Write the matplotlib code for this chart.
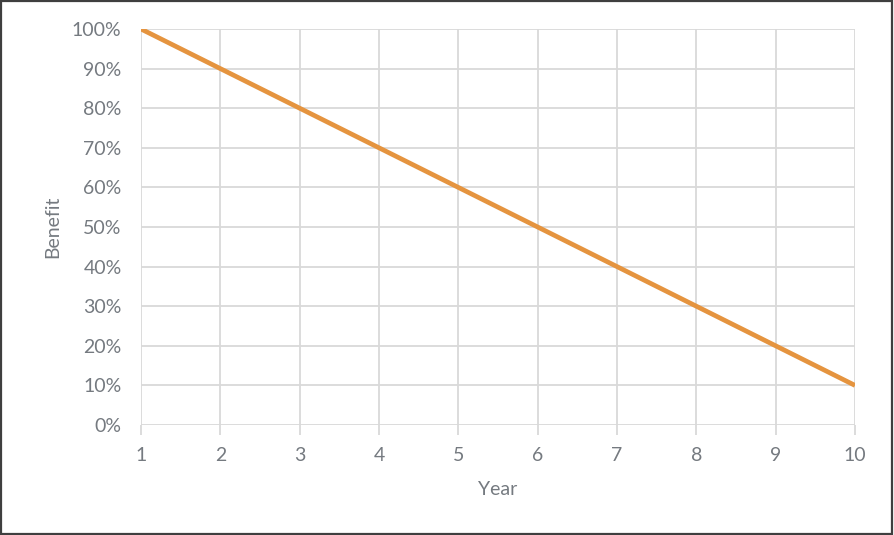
import matplotlib
matplotlib.use("Agg")
import matplotlib.pyplot as plt
from matplotlib.patches import Rectangle
from matplotlib.ticker import PercentFormatter

# Straight-line decline of benefit over ten years
years = [1, 2, 3, 4, 5, 6, 7, 8, 9, 10]
benefit = [100, 90, 80, 70, 60, 50, 40, 30, 20, 10]

plt.rcParams["font.family"] = ["Lato", "DejaVu Sans"]
text_color = "#757a80"
grid_color = "#d9d9d9"

fig = plt.figure(figsize=(8.94, 5.35), dpi=100)
ax = fig.add_axes([141 / 894, 110 / 535, 714 / 894, 396 / 535])

ax.plot(years, benefit, color="#e5943f", lw=3.4, solid_capstyle="butt", zorder=3)

ax.set_xlim(1, 10)
ax.set_ylim(0, 100)
ax.set_xticks(years)
ax.set_yticks(range(0, 101, 10))
ax.yaxis.set_major_formatter(PercentFormatter(decimals=0))

ax.grid(True, color=grid_color, lw=1.3)
for s in ax.spines.values():
    s.set_visible(False)
ax.tick_params(axis="x", length=7, width=1.3, color=grid_color, labelcolor=text_color,
               labelsize=14, pad=9)
ax.tick_params(axis="y", length=0, labelcolor=text_color, labelsize=14, pad=14)

ax.set_xlabel("Year", color=text_color, fontsize=14, labelpad=12)
ax.set_ylabel("Benefit", color=text_color, fontsize=14, labelpad=8)

# Outer frame around the whole chart
fig.patches.append(Rectangle((0.001, 0.002), 0.997, 0.996, transform=fig.transFigure,
                             fill=False, edgecolor="#3f3f3f", lw=1.6))

fig.savefig("out.png", dpi=100)
